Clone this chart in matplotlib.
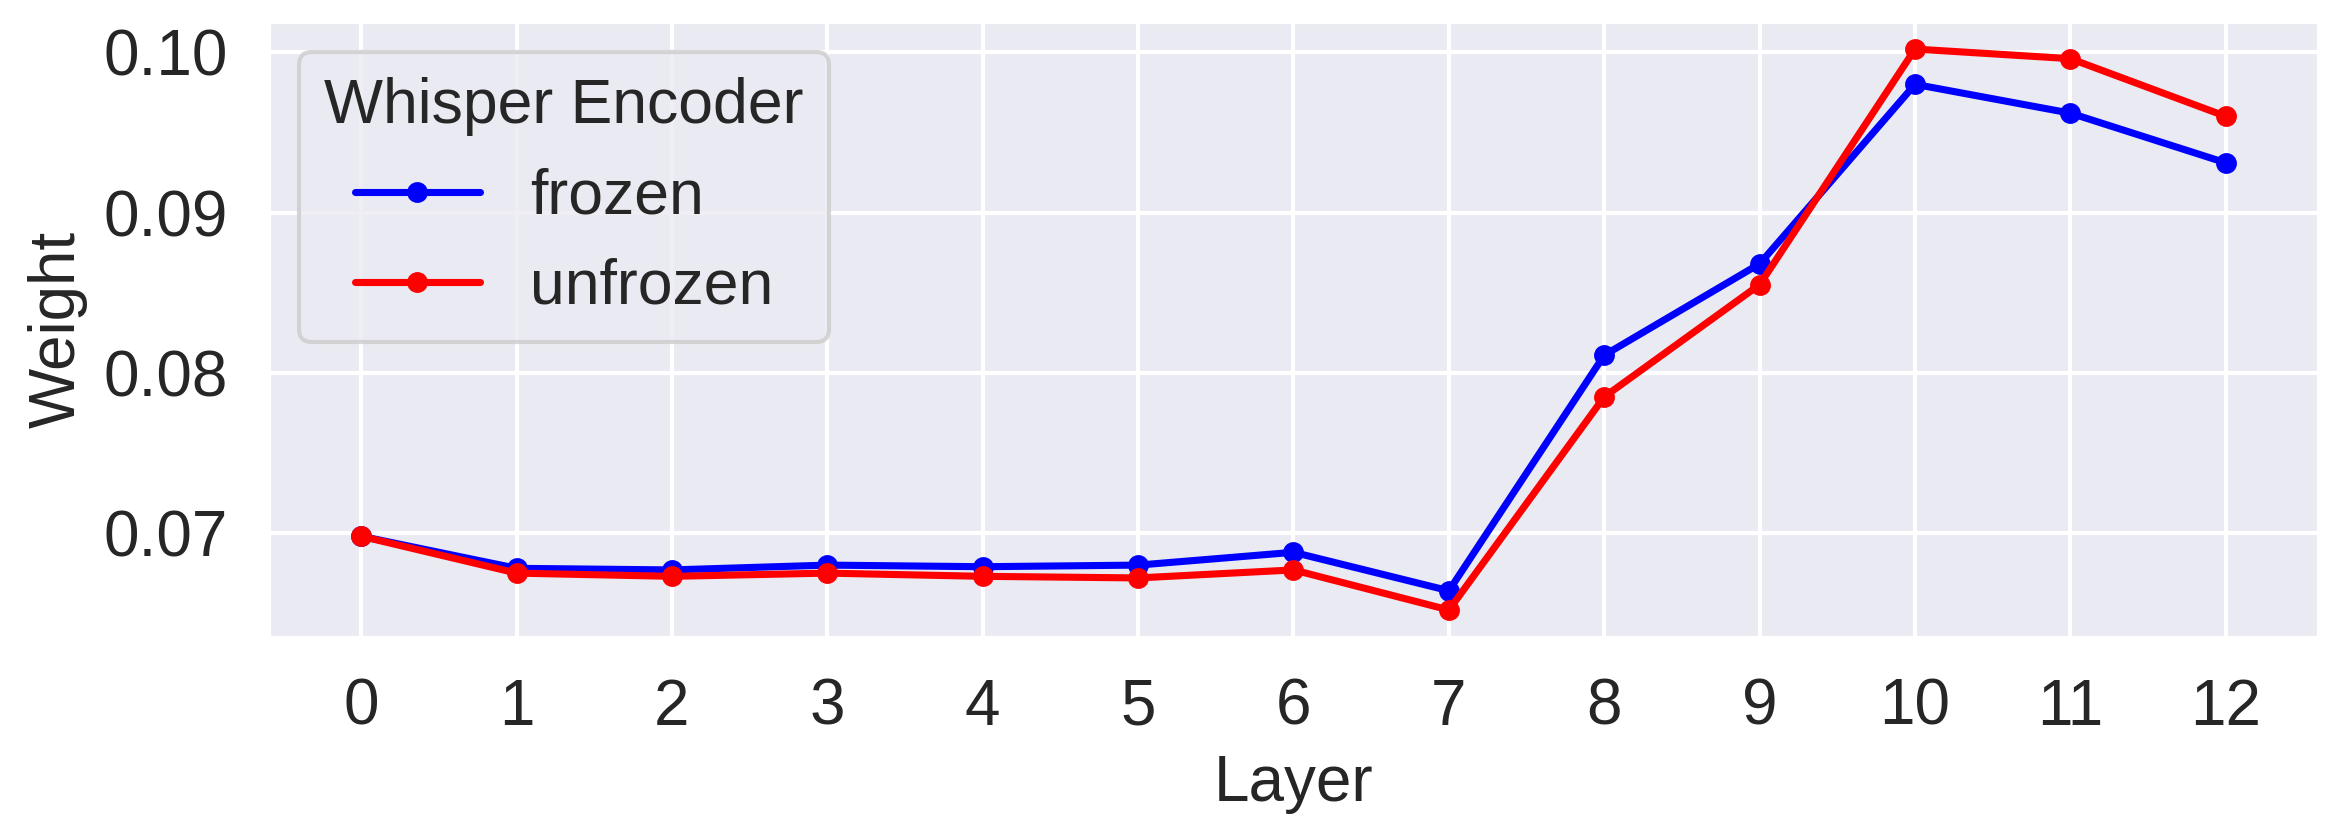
import matplotlib
matplotlib.use("Agg")
import matplotlib.pyplot as plt
import seaborn as sns

# layer weights
layers = list(range(13))
frozen = [0.0698, 0.0678, 0.0677, 0.0680, 0.0679, 0.0680, 0.0688,
          0.0664, 0.0811, 0.0868, 0.0980, 0.0962, 0.0931]
unfrozen = [0.0698, 0.0675, 0.0673, 0.0675, 0.0673, 0.0672, 0.0677,
            0.0652, 0.0785, 0.0855, 0.1002, 0.0996, 0.0960]

sns.set_theme(style="darkgrid")
plt.rcParams['font.family'] = ['Liberation Sans', 'DejaVu Sans']

fig = plt.figure(figsize=(2338 / 300, 827 / 300), dpi=300)
ax = fig.add_axes([0.1146, 0.2285, 0.9919 - 0.1146, 0.9746 - 0.2285])

ax.plot(layers, frozen, color='blue', lw=1.7, marker='o', ms=4, label='frozen')
ax.plot(layers, unfrozen, color='red', lw=1.7, marker='o', ms=4, label='unfrozen')

ax.set_xticks(layers)
ax.set_yticks([0.07, 0.08, 0.09, 0.10])
ax.set_yticklabels(['0.07', '0.08', '0.09', '0.10'])
ax.tick_params(labelsize=15.3)
ax.set_xlabel('Layer', fontsize=15.3)
ax.set_ylabel('Weight', fontsize=15.3)

ax.legend(title='Whisper Encoder', loc='upper left', fontsize=15, title_fontsize=15)

fig.savefig('out.png', dpi=300)
